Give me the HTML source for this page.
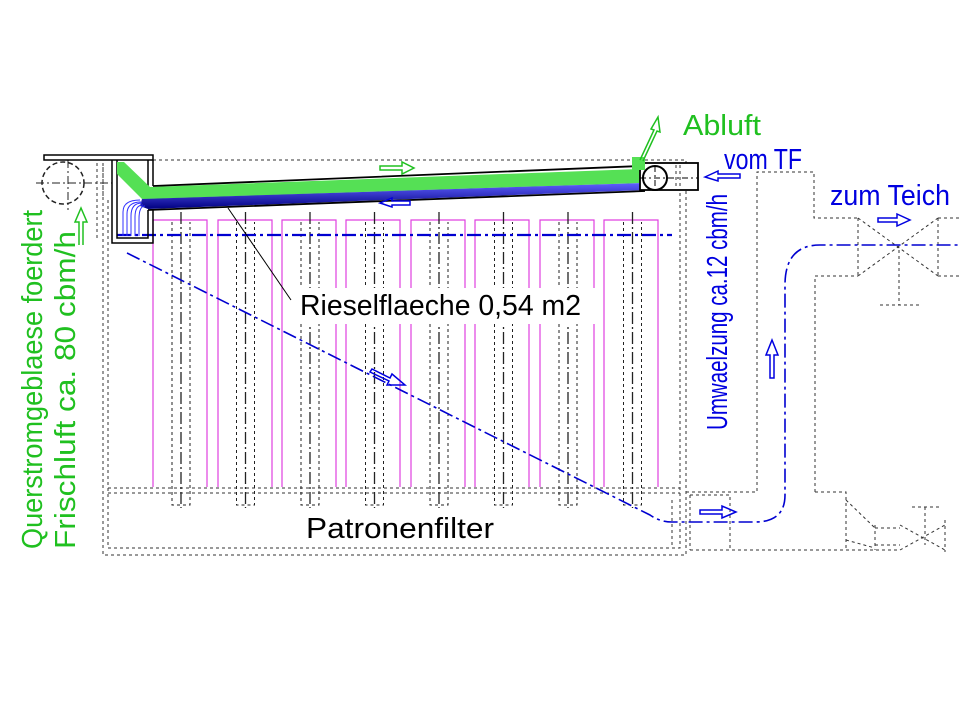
<!DOCTYPE html>
<html><head><meta charset="utf-8"><style>
html,body{margin:0;padding:0;background:#fff}
svg{display:block}
text{font-family:"Liberation Sans",sans-serif}
</style></head><body>
<svg width="960" height="720" viewBox="0 0 960 720" xmlns="http://www.w3.org/2000/svg">
<defs>
<linearGradient id="bl" x1="0" y1="0" x2="0" y2="1"><stop offset="0" stop-color="#6060ff"/><stop offset="1" stop-color="#000080"/></linearGradient>
</defs>
<g fill="none" stroke="#333" stroke-width="1" stroke-dasharray="3,3">
<path d="M153 160 H686 V555 H103 V165"/>
<path d="M108 200 V548 H680 V165"/>
<path d="M108 488 H680 M108 493 H680"/>
<path d="M672 500 V545"/>
<path d="M686 492 H757 V172 H814 V218 H858 M815 492 V276 H858"/>
<path d="M858 218 V276 M938 218 V276 M938 218 H960 M938 276 H960"/>
<path d="M858 218 L938 276 M858 276 L938 218"/>
<path d="M899 250 V305 M880 305 H920"/>
<path d="M815 492 H846 V550 M690 550 H900"/>
<path d="M846 500 L875 528 M846 540 L875 548 M875 525 V550 M875 528 H900 M875 545 H900 M900 525 L945 550 M900 550 L945 525 M945 520 V552 M925 507 V545 M912 507 H940"/>
<path d="M690 495 H730 V550 M690 495 V550"/>
</g>
<g fill="none" stroke="#e040e0" stroke-width="1.2">
<path d="M153 487 V220 H207 V487"/><path d="M218 487 V220 H272 V487"/>
<path d="M282 487 V220 H336 V487"/><path d="M346 487 V220 H400 V487"/>
<path d="M411 487 V220 H465 V487"/><path d="M475 487 V220 H529 V487"/>
<path d="M540 487 V220 H594 V487"/><path d="M604 487 V220 H658 V487"/>
</g>
<g fill="none" stroke="#222" stroke-width="1">
<g id="c"><path d="M172 222 V505 H190 V222" stroke-dasharray="3,3"/><path d="M181 212 V508" stroke-dasharray="12,3,2,3" stroke-width="1.3"/></g>
<use href="#c" x="64.5"/><use href="#c" x="129"/><use href="#c" x="193.5"/><use href="#c" x="258"/><use href="#c" x="322.5"/><use href="#c" x="387"/><use href="#c" x="451.5"/>
</g>
<rect x="290" y="288" width="306" height="36" fill="#fff"/>
<g fill="none" stroke="#0000d0" stroke-dasharray="14,4,3,4">
<path d="M117 235 H672" stroke-width="2.2"/>
<path d="M127 253 L650 515 Q660 522 672 522 H755 Q785 522 785 495 V285 Q785 245 820 245 H960" stroke-width="1.6"/>
</g>
<circle cx="63" cy="183" r="21" fill="none" stroke="#222" stroke-width="1.5" stroke-dasharray="5,3"/>
<path d="M36 183 H112 M68 160 V210" stroke="#222" stroke-dasharray="8,3,2,3" fill="none"/>
<path d="M97 163 V240 M103 163 V200" stroke="#333" stroke-dasharray="3,3" fill="none"/>
<rect x="44" y="155" width="109" height="5" fill="#fff" stroke="#000" stroke-width="1.5"/>
<path d="M112 160 V243 H153 V210 M117 160 V238 H148 V210 M148 160 V188 M153 160 V186" fill="none" stroke="#000" stroke-width="1.5"/>
<!-- duct bands -->
<polygon points="117,162 124,162 150,187 640,169 642,183 148,199 142,199 117,174" fill="#55e055"/>
<polygon points="142,199 642,183 645,190 148,209 140,206" fill="url(#bl)"/>
<g fill="none" stroke="#3030ff" stroke-width="1">
<path d="M123 236 V212 Q123 200 140 200"/><path d="M127 236 V214 Q127 202 141 202"/><path d="M131 236 V216 Q131 203 142 203"/><path d="M135 236 V217 Q135 205 143 205"/><path d="M139 236 V219 Q139 206 145 206"/>
</g>
<path d="M153 186 L640 166 M148 210 L645 191" stroke="#000" stroke-width="1.8" fill="none"/>
<rect x="640" y="163" width="58" height="27" fill="#fff" stroke="#000" stroke-width="1.8"/>
<circle cx="655" cy="178" r="12" fill="#fff" stroke="#000" stroke-width="2"/>
<path d="M640 178 H698 M655 166 V192" stroke="#000" stroke-dasharray="6,3,2,3" fill="none"/>
<path d="M676 165 V188 M680 165 V188" stroke="#333" stroke-dasharray="3,3"/>
<rect x="632" y="157" width="13" height="13" fill="#55e055"/>
<g fill="none" stroke="#20c020" stroke-width="1.5">
<path d="M640 160 L654 130 L651 129 L658 117 L660 132 L657 131 L643 161"/>
<path d="M380 166 H402 V162 L414 168 L402 174 V170 H380 Z"/>
<path d="M79 245 V222 H75 L81 208 L87 222 H83 V245"/>
</g>
<g fill="none" stroke="#0000e0" stroke-width="1.5">
<path d="M392 207 L380 203 L392 198 V201 H410 V205 H392 Z"/>
<path d="M705 177 L718 171 V174 H740 V178 H718 V181 Z"/>
<path d="M878 218 H897 V214 L910 220 L897 226 V222 H878 Z"/>
<path d="M770 378 V355 H766 L772 340 L778 355 H774 V378 Z"/>
<path d="M700 510 H722 V506 L736 512 L722 518 V514 H700 Z"/>
<path d="M372 369 L390 378 L392 374 L405 385 L387 385 L389 381 L370 372 Z"/>
</g>
<path d="M228 208 L291 300" stroke="#000" stroke-width="1"/>
<text x="300" y="315" font-size="29" fill="#000" textLength="281" lengthAdjust="spacingAndGlyphs">Rieselflaeche 0,54 m2</text>
<text x="306" y="538" font-size="29" fill="#000" textLength="188" lengthAdjust="spacingAndGlyphs">Patronenfilter</text>
<text x="683" y="135" font-size="29" fill="#20c020" textLength="78" lengthAdjust="spacingAndGlyphs">Abluft</text>
<text x="724" y="169" font-size="29" fill="#0000e0" textLength="78" lengthAdjust="spacingAndGlyphs">vom TF</text>
<text x="830" y="205" font-size="29" fill="#0000e0" textLength="120" lengthAdjust="spacingAndGlyphs">zum Teich</text>
<text transform="translate(727,430) rotate(-90)" font-size="29" fill="#0000e0" textLength="236" lengthAdjust="spacingAndGlyphs">Umwaelzung ca.12 cbm/h</text>
<text transform="translate(42,549) rotate(-90)" font-size="29" fill="#20c020" textLength="339" lengthAdjust="spacingAndGlyphs">Querstromgeblaese foerdert</text>
<text transform="translate(75,549) rotate(-90)" font-size="29" fill="#20c020" textLength="318" lengthAdjust="spacingAndGlyphs">Frischluft ca. 80 cbm/h</text>
</svg>
</body></html>
